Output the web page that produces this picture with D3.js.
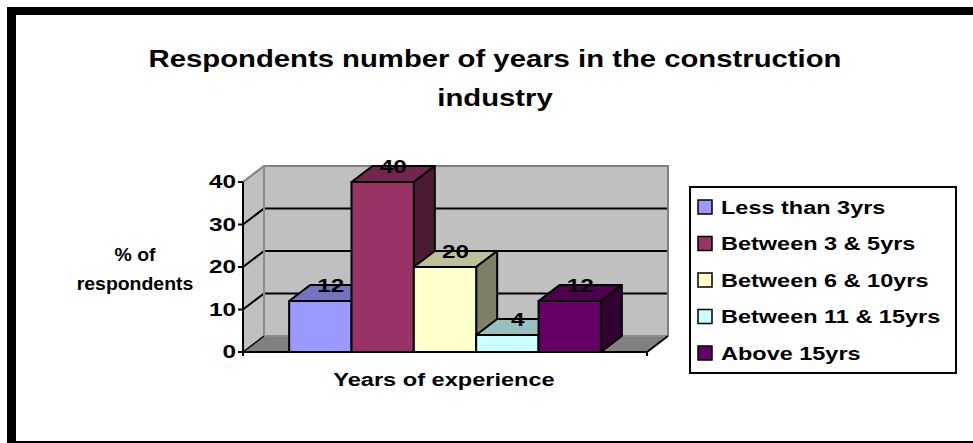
<!DOCTYPE html>
<html>
<head>
<meta charset="utf-8">
<script src="https://cdn.jsdelivr.net/npm/d3@7/dist/d3.min.js"></script>
<style>
  html, body { margin: 0; padding: 0; background: #ffffff; }
  svg { display: block; }
  text { font-family: "Liberation Sans", Arial, sans-serif; font-weight: bold; fill: #000; }
</style>
</head>
<body>
<svg id="chart" width="973" height="443"></svg>
<script>
// Chart data
const categories = ["Less than 3yrs", "Between 3 & 5yrs", "Between 6 & 10yrs", "Between 11 & 15yrs", "Above 15yrs"];
const values = [12, 40, 20, 4, 12];
const colors = ["#9999FF", "#993366", "#FFFFCC", "#CCFFFF", "#660066"];
const yTicks = [0, 10, 20, 30, 40];
const titleLines = ["Respondents number of years in the construction", "industry"];
const yTitleLines = ["% of", "respondents"];
const xTitle = "Years of experience";

const svg = d3.select("#chart");

// Text drawn with a slight horizontal stretch (wide bold lettering)
function wideText(parent, x, y, str, size, sx, anchor, dy) {
  const t = parent.append("g")
    .attr("transform", `translate(${x},${y}) scale(${sx},1)`)
    .append("text")
    .attr("font-size", size)
    .attr("text-anchor", anchor || "middle")
    .text(str);
  if (dy) t.attr("dy", dy);
  return t;
}

// Frame around the chart area
svg.append("rect").attr("x", 7).attr("y", 7).attr("width", 966).attr("height", 8).attr("fill", "#000");
svg.append("rect").attr("x", 7).attr("y", 7).attr("width", 9).attr("height", 436).attr("fill", "#000");
svg.append("rect").attr("x", 7).attr("y", 441).attr("width", 966).attr("height", 2).attr("fill", "#000");

// Title
titleLines.forEach((line, i) => wideText(svg, 495, 67 + i * 39, line, 24, 1.22));

// Scales: front plane of the 3D box, plus a depth offset
const x0 = 243, x1 = 647;
const depthX = 21, depthY = 16;
const y = d3.scaleLinear().domain([0, 40]).range([352, 182]);
const x = d3.scaleBand().domain(categories).range([x0, x1]).paddingInner(0).paddingOuter(0.74);

const shade = (c, k) => {
  const col = d3.rgb(c);
  return d3.rgb(col.r * k, col.g * k, col.b * k).formatHex();
};
const poly = pts => "M" + pts.map(p => p.join(",")).join("L") + "Z";

const g = svg.append("g");
const y0 = y(0), yTop = y(40);

// Walls and floor
g.append("path").attr("d", poly([[x0, y0], [x0 + depthX, y0 - depthY], [x0 + depthX, yTop - depthY], [x0, yTop]]))
  .attr("fill", "#c0c0c0");
g.append("path").attr("d", poly([[x0 + depthX, y0 - depthY], [x1 + depthX, y0 - depthY], [x1 + depthX, yTop - depthY], [x0 + depthX, yTop - depthY]]))
  .attr("fill", "#c0c0c0");
g.append("path").attr("d", poly([[x0, y0], [x1, y0], [x1 + depthX, y0 - depthY], [x0 + depthX, y0 - depthY]]))
  .attr("fill", "#808080");

// Gridlines on the side and back walls
yTicks.filter(t => t > 0 && t < 40).forEach(t => {
  g.append("path")
    .attr("d", `M${x0},${y(t)}L${x0 + depthX},${y(t) - depthY}L${x1 + depthX},${y(t) - depthY}`)
    .attr("fill", "none").attr("stroke", "#000").attr("stroke-width", 2);
});

// Wall edges
g.append("path")
  .attr("d", `M${x0},${yTop}L${x0 + depthX},${yTop - depthY}L${x1 + depthX},${yTop - depthY}L${x1 + depthX},${y0 - depthY}`)
  .attr("fill", "none").attr("stroke", "#808080").attr("stroke-width", 2);
g.append("path")
  .attr("d", `M${x0 + depthX},${yTop - depthY}L${x0 + depthX},${y0 - depthY}L${x1 + depthX},${y0 - depthY}`)
  .attr("fill", "none").attr("stroke", "#8c8c8c").attr("stroke-width", 2);
g.append("path")
  .attr("d", `M${x0},${y0}L${x0 + depthX},${y0 - depthY}`)
  .attr("fill", "none").attr("stroke", "#000").attr("stroke-width", 1.5);

// Bars (front, top and side faces)
categories.forEach((c, i) => {
  const bx = x(c), bw = x.bandwidth(), by = y(values[i]);
  const bar = g.append("g");
  bar.append("path").attr("d", poly([[bx, by], [bx + depthX, by - depthY], [bx + bw + depthX, by - depthY], [bx + bw, by]]))
    .attr("fill", shade(colors[i], 0.75));
  bar.append("path").attr("d", poly([[bx + bw, by], [bx + bw + depthX, by - depthY], [bx + bw + depthX, y0 - depthY], [bx + bw, y0]]))
    .attr("fill", shade(colors[i], 0.5));
  bar.append("rect").attr("x", bx).attr("y", by).attr("width", bw).attr("height", y0 - by)
    .attr("fill", colors[i]);
  bar.selectAll("path, rect").attr("stroke", "#000").attr("stroke-width", 2).attr("stroke-linejoin", "round");
});

// Floor front edge and right edge
g.append("path")
  .attr("d", `M${x0},${y0}L${x1},${y0}L${x1 + depthX},${y0 - depthY}`)
  .attr("fill", "none").attr("stroke", "#000").attr("stroke-width", 2);
g.append("path").attr("d", `M${x0},${y0}V${y0 + 4}M${x1},${y0}V${y0 + 4}`)
  .attr("stroke", "#000").attr("stroke-width", 2);

// Value axis
g.append("line").attr("x1", x0).attr("x2", x0).attr("y1", yTop).attr("y2", y0)
  .attr("stroke", "#000").attr("stroke-width", 2);
yTicks.forEach(t => {
  g.append("line").attr("x1", x0 - 5).attr("x2", x0).attr("y1", y(t)).attr("y2", y(t))
    .attr("stroke", "#000").attr("stroke-width", 2);
  wideText(g, x0 - 7, y(t), t, 18, 1.35, "end", "0.36em");
});

// Value labels
categories.forEach((c, i) => {
  wideText(g, x(c) + x.bandwidth() / 2 + depthX / 2, y(values[i]) - depthY + 1,
    values[i], 18, 1.35, "middle", "0.36em");
});

// Axis titles
yTitleLines.forEach((line, i) => wideText(svg, 135, 261 + i * 29, line, 18, 1.08));
wideText(svg, 444, 386, xTitle, 18, 1.31);

// Legend
const lg = svg.append("g");
lg.append("rect").attr("x", 690).attr("y", 187).attr("width", 266).attr("height", 186)
  .attr("fill", "#fff").attr("stroke", "#000").attr("stroke-width", 2);
categories.forEach((c, i) => {
  const cy = 207 + i * 36.5;
  lg.append("rect").attr("x", 698).attr("y", cy - 7).attr("width", 14).attr("height", 14)
    .attr("fill", colors[i]).attr("stroke", "#000").attr("stroke-width", 1.5);
  wideText(lg, 721, cy, c, 18.5, 1.27, "start", "0.36em");
});
</script>
</body>
</html>
